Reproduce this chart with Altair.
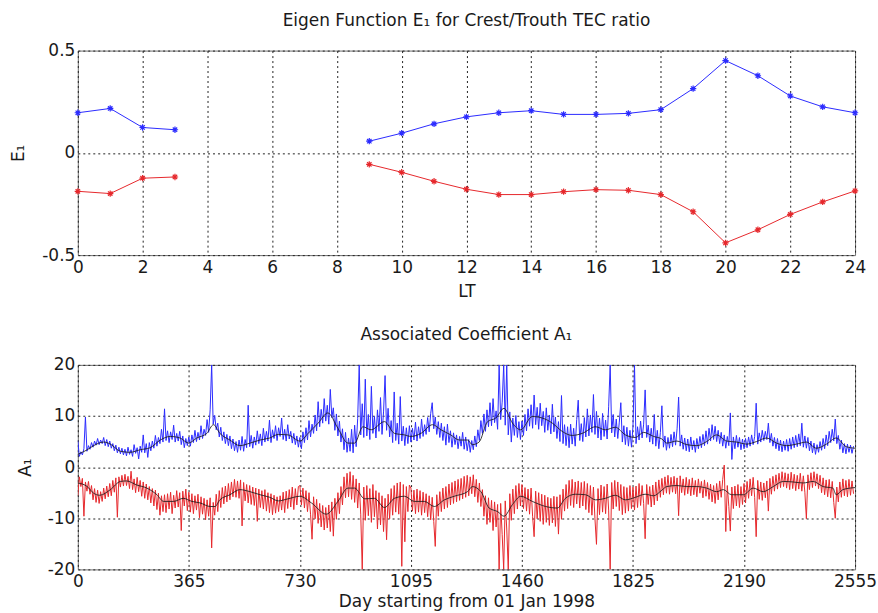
import altair as alt
import pandas as pd

FONT = "DejaVu Sans"
DAY_STEP = 5
YEAR_DAYS = 365

# ---- Eigen function E1 versus local time (no values for LT 4-8) ----
lt_hours = [0, 1, 2, 3, 9, 10, 11, 12, 13, 14, 15, 16, 17, 18, 19, 20, 21, 22, 23, 24]
e1_blue = [0.196, 0.217, 0.124, 0.113, 0.057, 0.096, 0.142, 0.176, 0.196, 0.206,
           0.188, 0.188, 0.193, 0.211, 0.314, 0.451, 0.377, 0.278, 0.225, 0.196]
e1_red = [-0.188, -0.199, -0.124, -0.118, -0.056, -0.095, -0.139, -0.178, -0.204, -0.204,
          -0.190, -0.180, -0.183, -0.204, -0.288, -0.440, -0.376, -0.301, -0.240, -0.186]

# ---- Associated coefficient A1, one value every 5 days, one list per year ----
blue_1998 = [5.2, 2.1, 3.0, 2.4, 3.6, 9.8, 3.1, 4.2, 3.5, 4.8,
             3.9, 5.1, 4.3, 5.6, 4.4, 5.3, 4.6, 5.8, 4.2, 5.4,
             4.0, 5.1, 3.7, 4.6, 3.2, 4.3, 2.8, 3.9, 2.6, 3.7,
             2.4, 3.5, 2.2, 3.9, 2.5, 3.4, 2.1, 4.4, 2.7, 3.8,
             1.6, 4.1, 2.9, 6.3, 2.8, 4.6, 1.9, 4.8, 3.2, 5.1,
             3.7, 6.2, 4.1, 5.8, 4.6, 7.4, 4.9, 11.4, 5.2, 7.1,
             4.8, 6.9, 5.4, 8.2, 4.9, 6.6, 5.1, 7.0, 4.4, 6.1,
             3.8, 5.6, 4.2]
blue_1999 = [5.9, 4.1, 6.3, 4.8, 7.2, 5.0, 6.8, 5.3, 8.1, 5.6,
             7.4, 6.2, 9.3, 6.8, 11.2, 20.0, 8.4, 10.1, 7.3, 8.6,
             5.9, 7.8, 5.2, 6.9, 4.6, 6.4, 4.2, 6.1, 3.6, 5.5,
             3.2, 5.0, 2.9, 5.3, 3.3, 6.0, 3.1, 5.4, 3.8, 12.1,
             4.0, 6.2, 3.7, 5.9, 4.3, 7.1, 4.6, 6.5, 4.2, 7.6,
             4.9, 7.0, 5.1, 9.2, 4.8, 7.3, 5.6, 8.1, 5.2, 7.7,
             6.0, 9.6, 5.4, 7.4, 5.1, 8.3, 5.5, 7.0, 4.7, 6.6,
             4.4, 6.1, 3.9]
blue_2000 = [5.8, 3.6, 6.9, 4.8, 7.7, 5.3, 9.1, 5.9, 8.4, 6.6,
             10.2, 7.1, 12.8, 7.9, 11.3, 8.6, 13.4, 9.0, 12.1, 8.4,
             15.2, 9.7, 11.6, 7.2, 10.4, 6.1, 9.0, 4.9, 7.5, 3.4,
             6.8, 2.9, 5.7, 3.1, 7.4, 2.8, 8.2, 4.0, 9.5, 20.0,
             6.3, 12.4, 5.8, 17.2, 6.1, 10.3, 5.4, 15.8, 6.6, 9.9,
             5.7, 11.2, 7.0, 13.6, 6.4, 10.8, 17.9, 7.2, 11.5, 5.9,
             9.1, 4.8, 14.7, 5.2, 8.6, 4.5, 13.8, 5.1, 8.0, 4.2,
             7.7, 4.6, 8.1]
blue_2001 = [4.9, 7.6, 5.3, 8.8, 5.1, 7.9, 5.6, 9.4, 6.0, 8.3,
             6.4, 9.7, 6.9, 10.5, 12.6, 7.5, 9.8, 6.4, 8.9, 5.8,
             8.6, 5.2, 7.9, 4.3, 8.4, 4.8, 7.1, 3.9, 6.7, 4.4,
             6.3, 3.6, 6.0, 4.1, 6.8, 3.5, 5.9, 3.2, 5.4, 2.9,
             5.2, 3.4, 6.1, 4.0, 7.3, 5.2, 9.1, 6.6, 10.4, 7.0,
             11.2, 7.9, 12.6, 8.1, 13.4, 8.7, 11.0, 7.4, 20.0, 9.3,
             12.7, 20.0, 8.2, 20.0, 6.3, 10.8, 4.9, 9.6, 6.2, 10.1,
             5.8, 8.9, 5.4]
blue_2002 = [9.0, 6.2, 10.3, 7.1, 11.4, 8.0, 12.2, 7.6, 14.1, 8.3,
             11.7, 7.4, 12.5, 8.1, 10.9, 6.8, 11.6, 7.2, 10.2, 6.5,
             12.3, 6.9, 9.8, 5.6, 8.9, 5.0, 14.0, 4.6, 8.3, 4.2,
             7.9, 3.8, 8.4, 4.5, 7.6, 4.1, 9.3, 13.1, 5.2, 8.5,
             5.0, 9.7, 5.9, 11.4, 6.1, 10.2, 6.8, 14.2, 6.4, 10.9,
             5.7, 9.6, 5.3, 10.5, 6.0, 9.2, 5.5, 11.8, 20.0, 6.7,
             10.3, 5.9, 9.4, 5.6, 8.8, 12.6, 4.9, 8.1, 4.4, 7.8,
             4.1, 7.2, 3.9]
blue_2003 = [8.0, 20.0, 4.6, 7.9, 5.3, 9.0, 5.7, 8.4, 15.1, 5.8,
             8.2, 4.9, 7.6, 4.5, 10.3, 4.1, 7.2, 3.6, 6.8, 12.0,
             3.9, 6.1, 3.3, 5.8, 3.7, 6.4, 4.0, 6.9, 4.3, 7.5,
             13.7, 4.1, 6.3, 3.5, 5.7, 3.2, 5.5, 3.0, 5.9, 3.4,
             5.2, 2.9, 5.6, 3.6, 6.0, 3.8, 6.4, 4.2, 7.1, 4.5,
             7.6, 5.1, 8.3, 5.4, 8.0, 5.0, 7.2, 4.6, 6.8, 4.1,
             6.3, 3.7, 6.0, 4.2, 10.6, 1.5, 5.9, 3.6, 6.2, 3.9,
             5.8, 3.4, 5.5]
blue_2004 = [3.6, 5.6, 3.8, 5.9, 4.1, 6.3, 4.4, 6.0, 12.5, 4.5,
             6.7, 4.9, 7.2, 5.2, 7.0, 5.4, 8.6, 4.8, 6.6, 4.1,
             5.8, 3.6, 5.6, 3.2, 5.3, 3.0, 5.1, 3.3, 5.4, 3.1,
             5.6, 3.5, 5.9, 3.8, 6.2, 4.0, 6.5, 4.2, 8.6, 3.9,
             6.1, 3.7, 5.8, 3.2, 5.1, 2.8, 4.7, 2.5, 4.4, 2.9,
             5.0, 3.3, 5.6, 3.6, 6.3, 4.2, 7.0, 4.8, 7.4, 5.1,
             9.4, 4.6, 6.2, 3.5, 5.3, 2.8, 4.6, 2.6, 4.5, 2.9,
             4.3, 2.7, 4.1]

red_1998 = [-5.6, -1.9, -3.8, -2.2, -9.6, -2.9, -4.7, -2.8, -5.3, -3.6,
            -6.4, -4.2, -6.9, -4.5, -7.1, -4.8, -6.7, -4.1, -6.2, -3.7,
            -5.8, -3.2, -5.6, -2.6, -4.9, -2.1, -9.8, -1.9, -3.9, -1.6,
            -3.7, -1.4, -3.6, -1.8, -4.2, -0.8, -4.4, -2.3, -5.0, -2.0,
            -4.8, -2.6, -5.7, -2.9, -6.1, -3.3, -6.4, -3.8, -7.0, -4.2,
            -7.6, -4.5, -8.3, -5.1, -9.4, -5.6, -8.7, -5.4, -8.9, -5.2,
            -8.2, -4.9, -9.1, -5.5, -8.0, -4.6, -7.8, -5.0, -12.4, -4.7,
            -7.6, -4.3, -8.5]
red_1999 = [-4.9, -8.8, -5.2, -9.1, -5.6, -8.4, -5.3, -9.9, -5.8, -9.2,
            -6.1, -10.3, -6.4, -9.6, -6.0, -15.8, -6.9, -9.4, -5.3, -8.7,
            -4.6, -7.9, -4.0, -7.2, -3.7, -6.8, -3.2, -6.4, -2.9, -5.8,
            -2.4, -5.9, -2.7, -6.1, -2.5, -11.5, -3.0, -6.6, -3.4, -7.0,
            -3.6, -7.3, -3.9, -7.5, -4.1, -10.6, -4.3, -7.9, -4.6, -8.2,
            -4.4, -8.6, -5.0, -8.9, -5.2, -9.3, -5.5, -9.0, -5.8, -8.7,
            -5.6, -8.4, -4.9, -8.9, -4.7, -8.1, -4.4, -7.8, -3.9, -8.3,
            -4.2, -7.4, -3.8]
red_2000 = [-3.6, -7.4, -4.1, -8.0, -4.6, -8.7, -5.0, -9.2, -14.1, -5.8,
            -10.1, -6.3, -11.0, -7.1, -11.7, -7.5, -12.3, -7.9, -11.9, -7.4,
            -12.6, -6.8, -13.5, -6.1, -10.2, -5.0, -9.1, -3.8, -7.4, -1.9,
            -6.0, -1.2, -5.8, -0.9, -6.3, -1.6, -6.9, -2.3, -8.0, -3.1,
            -9.2, -20.0, -3.9, -10.4, -3.6, -9.5, -4.2, -10.8, -3.4, -9.7,
            -4.6, -12.1, -5.0, -11.3, -5.6, -12.6, -6.1, -14.2, -5.3, -10.1,
            -4.2, -9.4, -3.6, -8.8, -3.1, -9.2, -2.9, -19.4, -3.4, -14.6,
            -3.8, -8.7, -3.5]
red_2001 = [-4.1, -8.6, -4.5, -9.1, -4.3, -8.8, -4.6, -9.4, -4.9, -8.9,
            -5.2, -9.7, -5.6, -10.3, -5.9, -10.6, -15.5, -5.4, -9.6, -4.8,
            -8.7, -4.1, -8.2, -3.8, -7.9, -3.3, -7.4, -3.0, -7.1, -2.7,
            -6.8, -2.4, -6.5, -2.2, -6.2, -1.8, -5.9, -1.6, -5.6, -1.9,
            -5.2, -1.5, -5.8, -2.4, -6.9, -3.1, -7.7, -4.4, -9.6, -5.6,
            -11.2, -6.0, -10.8, -6.5, -12.4, -6.8, -11.7, -7.3, -20.0, -7.1,
            -13.2, -20.0, -6.6, -12.1, -20.0, -5.2, -10.4, -4.3, -9.1, -3.6,
            -8.2, -3.2, -7.6]
red_2002 = [-3.4, -8.1, -4.0, -8.6, -4.3, -9.2, -4.1, -9.6, -13.6, -4.7,
            -10.1, -5.0, -10.6, -5.3, -11.2, -5.5, -10.8, -5.9, -11.4, -6.1,
            -10.9, -5.7, -11.6, -5.8, -13.1, -5.4, -10.2, -4.3, -8.6, -3.4,
            -8.1, -2.6, -7.5, -2.4, -7.9, -2.9, -7.2, -2.7, -8.0, -3.0,
            -7.6, -2.8, -8.3, -3.2, -8.9, -3.6, -9.4, -3.9, -10.1, -15.1,
            -4.2, -9.3, -3.5, -8.8, -3.8, -9.1, -3.3, -8.4, -20.0, -3.0,
            -8.2, -2.6, -7.7, -2.9, -8.5, -3.4, -9.3, -3.8, -9.0, -4.0,
            -8.6, -3.6, -8.1]
red_2003 = [-3.9, -8.4, -3.7, -7.9, -3.2, -7.5, -3.6, -7.1, -14.0, -3.4,
            -7.3, -3.8, -7.8, -3.5, -7.4, -2.9, -6.6, -2.5, -5.9, -2.2,
            -5.4, -1.9, -5.1, -1.6, -5.3, -2.0, -4.9, -1.8, -5.2, -2.1,
            -9.5, -1.7, -5.0, -2.3, -5.5, -2.0, -5.2, -2.4, -5.6, -2.1,
            -5.4, -2.6, -5.8, -2.3, -5.1, -2.8, -6.0, -2.5, -5.7, -3.0,
            -6.3, -3.3, -6.8, -3.6, -7.1, -3.2, -6.4, -2.7, -5.9, -2.4,
            0.4, -12.6, -3.6, -7.7, -12.5, -3.9, -8.1, -3.7, -7.6, -3.4,
            -7.9, -3.8, -7.3]
red_2004 = [-3.2, -7.0, -2.8, -6.1, -2.3, -5.6, -2.0, -5.9, -13.6, -2.6,
            -6.3, -2.9, -6.5, -3.1, -6.0, -2.7, -8.6, -2.2, -5.3, -1.8,
            -4.7, -1.5, -4.3, -1.2, -4.0, -0.9, -3.8, -1.1, -4.1, -1.3,
            -4.4, -1.0, -4.2, -1.4, -4.6, -1.6, -4.3, -1.2, -4.7, -1.7,
            -4.9, -10.1, -1.5, -4.4, -1.1, -4.0, -0.9, -3.7, -1.3, -4.2,
            -1.6, -5.0, -2.1, -5.4, -2.5, -5.8, -2.4, -6.0, -2.8, -6.9,
            -10.0, -3.9, -6.8, -2.9, -5.9, -2.3, -5.6, -2.6, -5.8, -2.4,
            -5.5, -2.7, -5.2]

# ---- Smoothed A1 (running-mean curves) ----
blue_trend_day = [0, 31, 52, 85, 107, 140, 172, 205, 238, 271, 304, 336, 364, 391, 424, 446, 467,
                  500, 533, 566, 599, 631, 659, 691, 730, 757, 790, 822, 855, 888, 910, 937, 964,
                  1008, 1041, 1074, 1095, 1128, 1166, 1194, 1226, 1254, 1281, 1297, 1319, 1347,
                  1374, 1401, 1429, 1456, 1494, 1527, 1560, 1592, 1625, 1658, 1702, 1734, 1767,
                  1800, 1833, 1860, 1893, 1920, 1936, 1969, 2002, 2035, 2067, 2100, 2133, 2166,
                  2198, 2231, 2264, 2297, 2330, 2362, 2395, 2428, 2461, 2493, 2526, 2555]
blue_trend_val = [2.5, 3.4, 4.2, 4.9, 4.5, 3.1, 2.9, 3.4, 3.8, 5.3, 6.0, 5.7, 4.7, 5.7, 6.6, 8.3, 6.6,
                  5.3, 4.2, 4.7, 5.3, 5.7, 6.4, 6.3, 5.1, 6.6, 8.6, 10.6, 7.6, 4.7, 4.7, 7.9, 7.3,
                  8.9, 6.6, 6.3, 6.0, 6.6, 8.3, 7.3, 6.3, 5.3, 5.3, 4.4, 4.9, 8.9,
                  9.6, 11.5, 8.6, 7.3, 9.9, 9.6, 8.6, 7.0, 6.2, 6.6, 7.9, 7.3, 7.8,
                  6.3, 5.8, 6.8, 6.0, 5.5, 4.7, 5.1, 4.4, 4.2, 5.0, 6.3, 5.1, 4.9,
                  4.5, 5.0, 5.7, 4.7, 4.2, 4.5, 4.9, 3.7, 4.5, 5.7, 4.0, 3.7]
red_trend_day = [0, 31, 52, 72, 107, 140, 160, 194, 227, 260, 282, 315, 347, 375, 402, 435, 451,
                 467, 500, 533, 566, 599, 631, 659, 691, 730, 768, 817, 855, 888, 910, 943, 975,
                 1008, 1041, 1074, 1106, 1139, 1172, 1205, 1237, 1281, 1297, 1325, 1352, 1380,
                 1401, 1429, 1456, 1494, 1538, 1576, 1603, 1636, 1669, 1702, 1734, 1767, 1800,
                 1833, 1865, 1893, 1920, 1936, 1969, 2002, 2035, 2067, 2100, 2122, 2149, 2188,
                 2220, 2253, 2286, 2319, 2351, 2384, 2417, 2450, 2482, 2493, 2515, 2555]
red_trend_val = [-3.1, -3.8, -5.1, -5.5, -4.4, -2.8, -2.7, -3.5, -4.1, -5.4, -6.7, -6.7, -6.1, -6.7,
                 -7.0, -7.7, -7.7, -6.4, -5.4, -4.4, -4.8, -5.4, -5.9, -6.6, -6.2, -5.7, -7.0, -9.2,
                 -6.7, -4.1, -4.1, -6.2, -6.1, -7.9, -6.1, -5.7, -6.7, -6.7, -7.7, -6.4, -5.7, -4.8,
                 -3.8, -4.8, -8.0, -8.7, -9.6, -7.3, -5.7, -6.7, -7.7, -8.0, -6.1, -5.3, -5.4, -6.4,
                 -6.1, -5.5, -6.4, -5.9, -5.3, -5.6, -4.5, -3.8, -3.6, -3.8, -3.8, -4.1, -4.8, -4.4,
                 -5.4, -5.4, -4.1, -4.8, -3.8, -2.8, -2.9, -3.1, -2.8, -3.8, -4.1, -5.4, -4.4, -4.0]

lt_ticks = list(range(0, 25, 2))
day_ticks = [0, 365, 730, 1095, 1460, 1825, 2190, 2555]

blue_years = [blue_1998, blue_1999, blue_2000, blue_2001, blue_2002, blue_2003, blue_2004]
red_years = [red_1998, red_1999, red_2000, red_2001, red_2002, red_2003, red_2004]


def daily_rows(name, years):
    rows = []
    for y, vals in enumerate(years):
        for j, v in enumerate(vals):
            rows.append({"day": y * YEAR_DAYS + j * DAY_STEP, "a1": v, "series": name})
    return rows


a1_df = pd.DataFrame(daily_rows("blue", blue_years) + daily_rows("red", red_years))
trend_df = pd.DataFrame(
    [{"day": d, "a1": v, "series": "blue"} for d, v in zip(blue_trend_day, blue_trend_val)]
    + [{"day": d, "a1": v, "series": "red"} for d, v in zip(red_trend_day, red_trend_val)]
)

e1_rows = []
for h, b, r in zip(lt_hours, e1_blue, e1_red):
    part = "night" if h <= 3 else "day"
    e1_rows.append({"lt": h, "e1": b, "series": "blue", "trace": "blue-" + part})
    e1_rows.append({"lt": h, "e1": r, "series": "red", "trace": "red-" + part})
e1_df = pd.DataFrame(e1_rows)

ASTERISK = "M-1,0L1,0M0,-1L0,1M-0.7,-0.7L0.7,0.7M-0.7,0.7L0.7,-0.7"
LABELS = "toString(datum.value)"

# ---------------- top panel: E1 ----------------
e1_color = alt.Color("series:N",
                     scale=alt.Scale(domain=["blue", "red"], range=["#2b2bff", "#e6282c"]),
                     legend=None)
x_lt = alt.X("lt:Q", scale=alt.Scale(domain=[0, 24], nice=False),
             axis=alt.Axis(values=lt_ticks, title="LT", titleY=41, titleBaseline="alphabetic",
                           labelExpr=LABELS, labelPadding=4))
y_e1 = alt.Y("e1:Q", scale=alt.Scale(domain=[-0.5, 0.5], nice=False),
             axis=alt.Axis(values=[-0.5, 0, 0.5], title="E₁", titleX=-54,
                           titleBaseline="alphabetic", labelExpr=LABELS, labelPadding=3))

e1_lines = alt.Chart(e1_df).mark_line(strokeWidth=1).encode(
    x=x_lt, y=y_e1, color=e1_color, detail="trace:N")
e1_points = alt.Chart(e1_df).mark_point(
    shape=ASTERISK, size=40, filled=False, strokeWidth=1.2, opacity=1).encode(
    x="lt:Q", y="e1:Q", color=e1_color)

top = alt.layer(e1_lines, e1_points).properties(
    width=779, height=205,
    title=alt.TitleParams("Eigen Function E₁ for Crest/Trouth TEC ratio", font=FONT,
                          fontSize=17, fontWeight="normal", color="#1a1a1a",
                          anchor="middle", baseline="alphabetic", offset=-1))

# ---------------- bottom panel: A1 ----------------
a1_color = alt.Color("series:N",
                     scale=alt.Scale(domain=["blue", "red"], range=["#0000ff", "#cc0000"]),
                     legend=None)
x_day = alt.X("day:Q", scale=alt.Scale(domain=[0, 2555], nice=False),
              axis=alt.Axis(values=day_ticks, title="Day starting from 01 Jan 1998", titleY=37,
                            titleBaseline="alphabetic", labelExpr=LABELS, labelPadding=4))
y_a1 = alt.Y("a1:Q", scale=alt.Scale(domain=[-20, 20], nice=False),
             axis=alt.Axis(values=[-20, -10, 0, 10, 20], title="A₁", titleX=-47,
                           titleBaseline="alphabetic", labelExpr=LABELS, labelPadding=3))

a1_lines = alt.Chart(a1_df).mark_line(strokeWidth=1, opacity=1, clip=True).encode(
    x=x_day, y=y_a1, color=a1_color, detail="series:N")
a1_trend = alt.Chart(trend_df).mark_line(
    color="#1a1a1a", strokeWidth=1, interpolate="monotone", opacity=0.85).encode(
    x="day:Q", y="a1:Q", detail="series:N")

bottom = alt.layer(a1_lines, a1_trend).properties(
    width=779, height=205,
    title=alt.TitleParams("Associated Coefficient A₁", font=FONT, fontSize=17,
                          fontWeight="normal", color="#1a1a1a", anchor="middle",
                          baseline="alphabetic", offset=-1))

chart = alt.vconcat(top, bottom, spacing=25).configure(
    padding={"left": 9, "top": 10, "right": 0, "bottom": 0},
    background="white",
).configure_view(
    stroke="#6e6e6e", strokeWidth=1,
).configure_axis(
    grid=True, gridDash=[2, 3], gridColor="#222222", gridWidth=1, gridOpacity=1,
    domain=False, ticks=False,
    labelFont=FONT, labelFontSize=17, labelColor="#1a1a1a",
    labelFlush=False, labelOverlap=False,
    titleFont=FONT, titleFontSize=17, titleFontWeight="normal", titleColor="#1a1a1a",
)

chart.save("out.html", embed_options={"renderer": "svg", "actions": False})
